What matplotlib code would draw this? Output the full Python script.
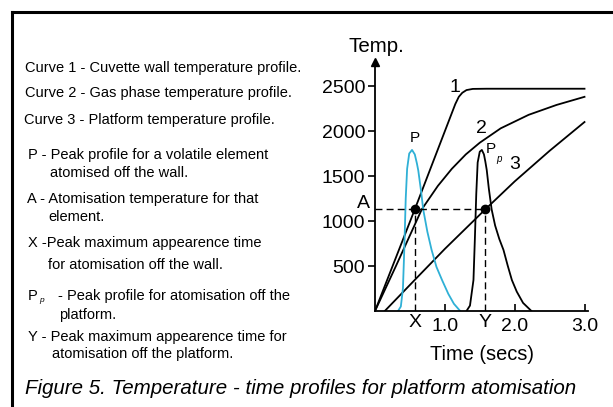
import numpy as np
import matplotlib
matplotlib.use('Agg')
import matplotlib.pyplot as plt
from matplotlib.lines import Line2D

plt.rcParams['font.family'] = ['Liberation Sans', 'DejaVu Sans']

# temperature profiles (time in s, temperature)
t_wall = [0.0, 0.57, 1.15, 1.20, 1.25, 1.31, 1.40, 1.60, 3.00]
T_wall = [0, 1130, 2300, 2380, 2425, 2455, 2468, 2470, 2470]

t_gas = [0.0, 0.3, 0.67, 0.9, 1.1, 1.3, 1.5, 1.8, 2.2, 2.6, 3.0]
T_gas = [0, 500, 1130, 1390, 1580, 1740, 1870, 2030, 2180, 2290, 2380]

t_plat = [0.14, 0.6, 1.0, 1.58, 2.0, 2.5, 3.0]
T_plat = [0, 370, 690, 1130, 1440, 1780, 2100]

# absorbance peaks (drawn on the temperature scale)
t_peak_wall = [0.33, 0.37, 0.40, 0.42, 0.44, 0.46, 0.49, 0.53, 0.57, 0.60, 0.62,
               0.66, 0.69, 0.75, 0.81, 0.88, 0.96, 1.05, 1.13, 1.22]
T_peak_wall = [0, 50, 250, 700, 1250, 1580, 1750, 1790, 1740, 1640, 1560,
               1330, 1130, 880, 680, 490, 344, 190, 80, 0]

t_peak_plat = [1.31, 1.36, 1.41, 1.43, 1.45, 1.47, 1.50, 1.53, 1.56, 1.58, 1.60,
               1.63, 1.67, 1.72, 1.78, 1.84, 1.90, 1.96, 2.03, 2.12, 2.24]
T_peak_plat = [0, 60, 344, 800, 1300, 1650, 1770, 1790, 1740, 1660, 1567,
               1360, 1130, 950, 800, 678, 505, 344, 215, 90, 0]

A_temp = 1130
X_time = 0.57
Y_time = 1.58

yticks = [500, 1000, 1500, 2000, 2500]
xticks = [1.0, 2.0, 3.0]
xticklabels = ['1.0', '2.0', '3.0']

notes = [
    (25, 68, "Curve 1 - Cuvette wall temperature profile."),
    (25, 93, "Curve 2 - Gas phase temperature profile."),
    (24, 120, "Curve 3 - Platform temperature profile."),
    (28, 155, "P - Peak profile for a volatile element"),
    (50, 173, "atomised off the wall."),
    (27, 199, "A - Atomisation temperature for that"),
    (48, 217, "element."),
    (28, 243, "X -Peak maximum appearence time"),
    (48, 265, "for atomisation off the wall."),
    (58, 296, "- Peak profile for atomisation off the"),
    (59, 315, "platform."),
    (28, 337, "Y - Peak maximum appearence time for"),
    (52, 354, "atomisation off the platform."),
]

W, H = 613, 407
fig = plt.figure(figsize=(W / 100, H / 100), dpi=100)

def fx(px):
    return px / W

def fy(py):
    return 1 - py / H

# frame lines top and left
fig.add_artist(Line2D([fx(12), 1], [fy(12), fy(12)], color='black', lw=2.2))
fig.add_artist(Line2D([fx(12), fx(12)], [fy(12), 0], color='black', lw=2.2))

ax = fig.add_axes([fx(375), fy(311), (588 - 375) / W, (311 - 62) / H])
ax.set_xlim(0, 3.05)
ax.set_ylim(0, 2767)
for s in ['top', 'right']:
    ax.spines[s].set_visible(False)
ax.spines['left'].set_linewidth(1.3)
ax.spines['bottom'].set_linewidth(1.3)
ax.plot([0], [2767], marker='^', color='black', markersize=6, clip_on=False)

ax.set_yticks(yticks)
ax.set_yticklabels([str(v) for v in yticks])
ax.set_xticks(xticks)
ax.set_xticklabels(xticklabels)
ax.tick_params(axis='y', direction='out', length=5, width=1.2, labelsize=14, pad=2)
ax.tick_params(axis='x', direction='in', length=5, width=1.2, labelsize=14, pad=5)

ax.plot(t_wall, T_wall, color='black', lw=1.3)
ax.plot(t_gas, T_gas, color='black', lw=1.3)
ax.plot(t_plat, T_plat, color='black', lw=1.3)
ax.plot(t_peak_wall, T_peak_wall, color='#2fb0d6', lw=1.3)
ax.plot(t_peak_plat, T_peak_plat, color='black', lw=1.3)

# atomisation temperature and appearance times
dash = dict(color='black', lw=1.0, dashes=(5, 3))
ax.plot([0, Y_time], [A_temp, A_temp], **dash)
ax.plot([X_time, X_time], [0, A_temp], **dash)
ax.plot([Y_time, Y_time], [0, A_temp], **dash)
ax.plot([X_time, Y_time], [A_temp, A_temp], 'o', color='black', markersize=6)

ax.text(-0.17, A_temp + 60, 'A', fontsize=14, ha='center', va='center')
ax.text(X_time, -125, 'X', fontsize=14, ha='center', va='center')
ax.text(Y_time, -125, 'Y', fontsize=14, ha='center', va='center')

ax.text(1.15, 2485, '1', fontsize=14, ha='center', va='center')
ax.text(1.53, 2030, '2', fontsize=14, ha='center', va='center')
ax.text(2.0, 1630, '3', fontsize=14, ha='center', va='center')
ax.text(0.57, 1925, 'P', fontsize=11, ha='center', va='center')
ax.text(1.59, 1800, 'P', fontsize=11, ha='left', va='center')
ax.text(1.73, 1690, 'p', fontsize=7, style='italic', ha='left', va='center')

ax.text(0.5, -0.175, 'Time (secs)', transform=ax.transAxes, fontsize=14.4,
        ha='center', va='center')
fig.text(fx(376.5), fy(47), 'Temp.', fontsize=14.8, ha='center', va='center')

for x, y, s in notes:
    fig.text(fx(x), fy(y), s, fontsize=10.5, ha='left', va='center')
fig.text(fx(28), fy(296), 'P', fontsize=10.5, ha='left', va='center')
fig.text(fx(39), fy(301), 'p', fontsize=6, style='italic', ha='left', va='center')

fig.text(fx(25), fy(389), 'Figure 5. Temperature - time profiles for platform atomisation',
         fontsize=14.8, style='italic', ha='left', va='center')

fig.savefig('out.png', dpi=100)
